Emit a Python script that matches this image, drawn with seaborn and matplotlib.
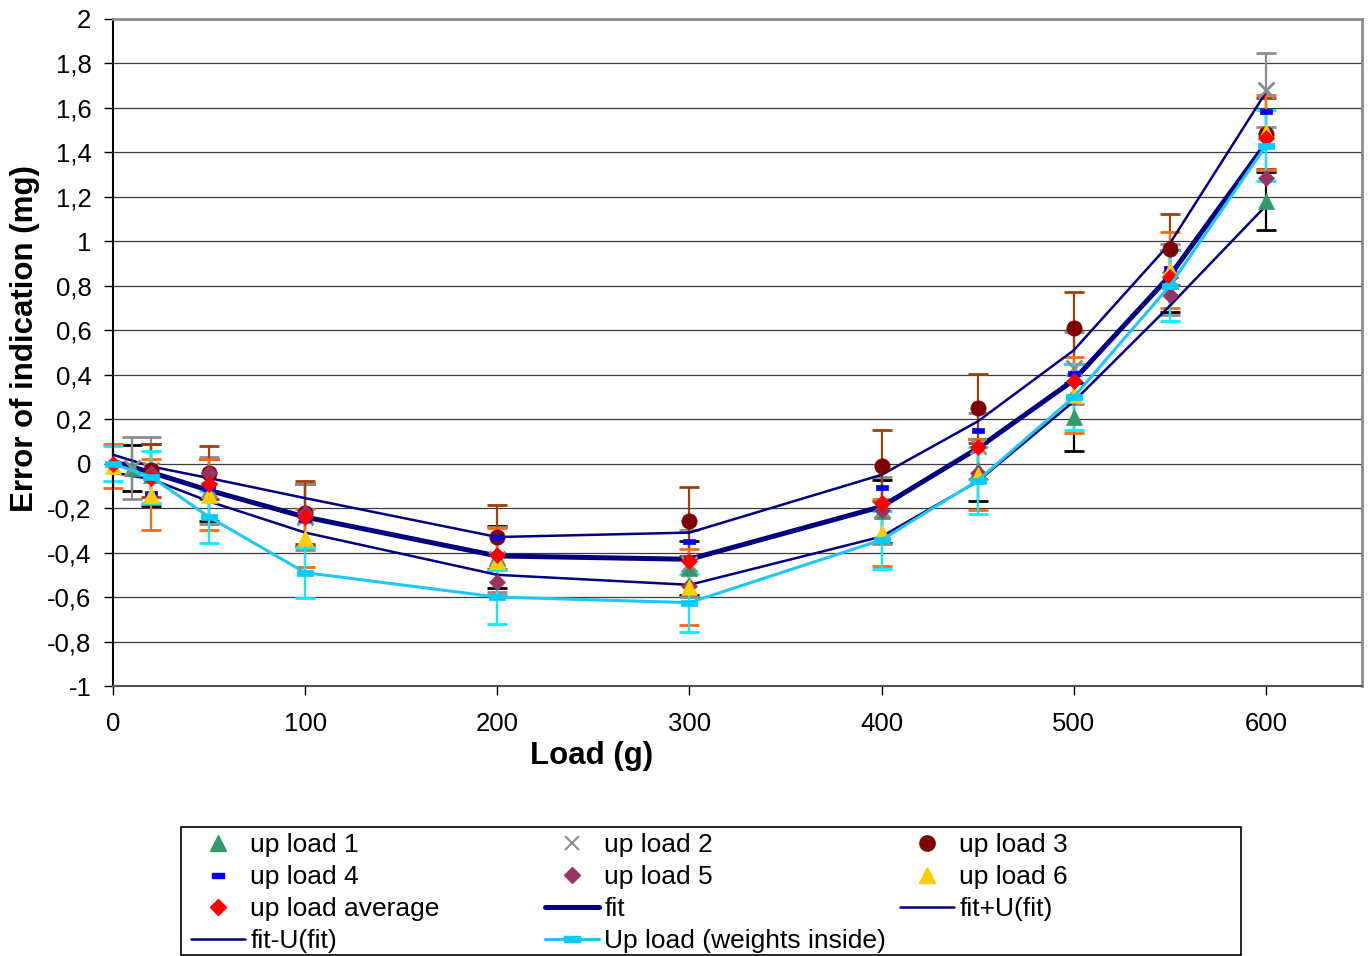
import matplotlib
matplotlib.use("Agg")
import matplotlib.pyplot as plt
from matplotlib.lines import Line2D
from matplotlib.patches import Rectangle
import seaborn as sns
import numpy as np

# ---------------- data ----------------
loads = [0, 20, 50, 100, 200, 300, 400, 450, 500, 550, 600]
loads_12 = [10, 20, 50, 100, 200, 300, 400, 450, 500, 550, 600]
loads_3to5 = [20, 50, 100, 200, 300, 400, 450, 500, 550, 600]

up1 = [-0.02, -0.05, -0.12, -0.23, -0.42, -0.47, -0.215, -0.03, 0.21, 0.82, 1.18]
up1_err = [0.105, 0.14, 0.14, 0.14, 0.14, 0.12, 0.14, 0.14, 0.155, 0.14, 0.13]
up2 = [-0.02, -0.03, -0.12, -0.24, -0.43, -0.45, -0.21, 0.08, 0.43, 0.83, 1.68]
up2_err = [0.14, 0.15, 0.15, 0.15, 0.146, 0.15, 0.15, 0.15, 0.16, 0.16, 0.165]
up3 = [-0.03, -0.04, -0.22, -0.33, -0.26, -0.01, 0.25, 0.61, 0.965, 1.485]
up3_err = [0.12, 0.12, 0.14, 0.145, 0.155, 0.16, 0.155, 0.16, 0.16, 0.16]
up4 = [-0.13, -0.11, -0.25, -0.33, -0.35, -0.105, 0.15, 0.41, 0.88, 1.585]
up5 = [-0.04, -0.04, -0.22, -0.53, -0.55, -0.21, -0.04, 0.30, 0.76, 1.285]
up6 = [-0.01, -0.14, -0.14, -0.335, -0.44, -0.555, -0.31, -0.05, 0.31, 0.87, 1.49]
up6_err = [0.10, 0.16, 0.16, 0.13, 0.15, 0.17, 0.15, 0.16, 0.17, 0.17, 0.17]
avg = [0.0, -0.065, -0.09, -0.24, -0.41, -0.44, -0.175, 0.075, 0.37, 0.84, 1.465]
fit = [0.01, -0.04, -0.12, -0.24, -0.415, -0.43, -0.193, 0.069, 0.376, 0.845, 1.44]
fit_plus = [0.04, -0.013, -0.065, -0.155, -0.33, -0.31, -0.05, 0.19, 0.51, 0.99, 1.67]
fit_minus = [-0.04, -0.07, -0.17, -0.31, -0.50, -0.545, -0.328, -0.08, 0.28, 0.71, 1.16]
inside = [0.0, -0.06, -0.24, -0.49, -0.60, -0.625, -0.343, -0.076, 0.30, 0.80, 1.43]
inside_err = [0.08, 0.115, 0.115, 0.115, 0.12, 0.13, 0.13, 0.15, 0.15, 0.16, 0.16]

x_ticks = [0, 100, 200, 300, 400, 500, 600]
y_ticks = [-1, -0.8, -0.6, -0.4, -0.2, 0, 0.2, 0.4, 0.6, 0.8, 1, 1.2, 1.4, 1.6, 1.8, 2]

labels = ["up load 1", "up load 2", "up load 3", "up load 4", "up load 5",
          "up load 6", "up load average", "fit", "fit+U(fit)", "fit-U(fit)",
          "Up load (weights inside)"]

# ---------------- style ----------------
sns.set_theme(style="white")
plt.rcParams['font.family'] = ['Liberation Sans', 'DejaVu Sans']

fig = plt.figure(figsize=(13.7, 9.56), dpi=100)
ax = fig.add_axes([113 / 1370, 1 - 686 / 956, 1249 / 1370, 667 / 956])

navy = "#000080"
cyan_line = "#1CC8F5"
rect_dash = [(-1, -0.4), (1, -0.4), (1, 0.4), (-1, 0.4), (-1, -0.4)]
rect_sq = [(-1, -0.36), (1, -0.36), (1, 0.36), (-1, 0.36), (-1, -0.36)]

# error bars
eb_kw = dict(fmt='none', elinewidth=1.6, capsize=7, capthick=2, zorder=2)
for xx, yy, ee, cc in [(loads_12, up1, up1_err, "#000000"),
                       (loads_12, up2, up2_err, "#8C8C8C"),
                       (loads_3to5, up3, up3_err, "#A0400A"),
                       (loads, up6, up6_err, "#FF6A10"),
                       (loads, inside, inside_err, "#00F0FF")]:
    cont = ax.errorbar(xx, yy, yerr=ee, ecolor=cc, **eb_kw)
    for art in cont.get_children():
        art.set_clip_on(False)

def line(x, y, color, lw, z, **kw):
    sns.lineplot(x=x, y=y, ax=ax, color=color, linewidth=lw, estimator=None,
                 sort=False, legend=False, zorder=z, clip_on=False, **kw)

line(loads, fit_plus, navy, 1.8, 3)
line(loads, fit_minus, navy, 1.8, 3)
line(loads, fit, navy, 3.6, 3)

def pts(x, y, color, marker, ms, z, mec=None, mew=0.5):
    sns.lineplot(x=x, y=y, ax=ax, color=color, linestyle='', marker=marker,
                 markersize=ms, markeredgecolor=mec or color, markeredgewidth=mew,
                 estimator=None, sort=False, legend=False, zorder=z, clip_on=False)

pts(loads_12, up1, "#339966", "^", 11, 4)
pts(loads_12, up2, "#8C8C8C", "x", 11, 4, mew=2)
pts(loads_3to5, up3, "#800000", "o", 11, 4)
pts(loads_3to5, up4, "#0000FF", rect_dash, 9, 4)
pts(loads_3to5, up5, "#993366", "D", 8.5, 4)
pts(loads, up6, "#FFCC00", "^", 11, 4)
pts(loads, avg, "#FF0000", "D", 8.5, 4)

sns.lineplot(x=loads, y=inside, ax=ax, color=cyan_line, linewidth=2.2, marker=rect_sq,
             markersize=11, markerfacecolor="#00CCFF", markeredgecolor="#00CCFF",
             markeredgewidth=0.5, estimator=None, sort=False, legend=False, zorder=5,
             clip_on=False)

# ---------------- axes ----------------
ax.set_xlim(0, 650)
ax.set_ylim(-1, 2)
ax.set_xticks(x_ticks)
ax.set_yticks(y_ticks)
ax.set_xticklabels([str(v) for v in x_ticks])
ax.set_yticklabels([("%g" % round(v, 1)).replace('.', ',') for v in y_ticks])
ax.grid(False)
for v in y_ticks:
    ax.axhline(v, color="#3C3C3C", linewidth=0.9, zorder=1)

ax.tick_params(axis='both', direction='out', length=6.5, width=1, color='black',
               labelsize=18.5, labelcolor='black', left=True, bottom=True)
ax.tick_params(axis='y', pad=9)
ax.tick_params(axis='x', pad=12)

for s in ['left', 'bottom']:
    ax.spines[s].set_color('black')
    ax.spines[s].set_linewidth(1.5)
ax.spines['bottom'].set_color('#505050')
for s in ['top', 'right']:
    ax.spines[s].set_color('#8C8C8C')
    ax.spines[s].set_linewidth(2)
ax.set_facecolor('white')

ax.set_xlabel("Load (g)", fontsize=22.5, fontweight='bold', color='black')
ax.set_ylabel("Error of indication (mg)", fontsize=22.5, fontweight='bold', color='black')
ax.xaxis.set_label_coords(0.383, -0.105)
ax.xaxis.label.set_va('center')
ax.yaxis.set_label_coords(-0.0705, 0.521)
ax.yaxis.label.set_va('center')

# ---------------- legend ----------------
h = {
    "up load 1": Line2D([], [], ls='', marker='^', ms=11, color="#339966"),
    "up load 2": Line2D([], [], ls='', marker='x', ms=10, mew=1.5, color="#8C8C8C"),
    "up load 3": Line2D([], [], ls='', marker='o', ms=11, color="#800000"),
    "up load 4": Line2D([], [], ls='', marker=rect_dash, ms=9, color="#0000FF"),
    "up load 5": Line2D([], [], ls='', marker='D', ms=8.5, color="#993366"),
    "up load 6": Line2D([], [], ls='', marker='^', ms=11, color="#FFCC00"),
    "up load average": Line2D([], [], ls='', marker='D', ms=8.5, color="#FF0000"),
    "fit": Line2D([], [], color=navy, lw=3.6),
    "fit+U(fit)": Line2D([], [], color=navy, lw=1.8),
    "fit-U(fit)": Line2D([], [], color=navy, lw=1.8),
    "Up load (weights inside)": Line2D([], [], color=cyan_line, lw=2.2, marker=rect_sq,
                                       ms=11, mfc="#00CCFF", mec="#00CCFF"),
}
cols = [
    ["up load 1", "up load 4", "up load average", "fit-U(fit)"],
    ["up load 2", "up load 5", "fit", "Up load (weights inside)"],
    ["up load 3", "up load 6", "fit+U(fit)"],
]
col_x = [191 / 1370, 545 / 1370, 900 / 1370]
top_y = 1 - 833 / 956
for cx, names in zip(col_x, cols):
    fig.legend([h[n] for n in names], names, loc='upper left',
               bbox_to_anchor=(cx, top_y), frameon=False, borderpad=0,
               borderaxespad=0, handlelength=2.05, handletextpad=0.2,
               labelspacing=0.3, fontsize=19, labelcolor='black')
fig.patches.append(Rectangle((181 / 1370, 1 - 955 / 956), (1241 - 181) / 1370,
                             (955 - 827) / 956, transform=fig.transFigure,
                             fill=False, edgecolor='black', linewidth=1.2))

fig.savefig("out.png", dpi=100)
